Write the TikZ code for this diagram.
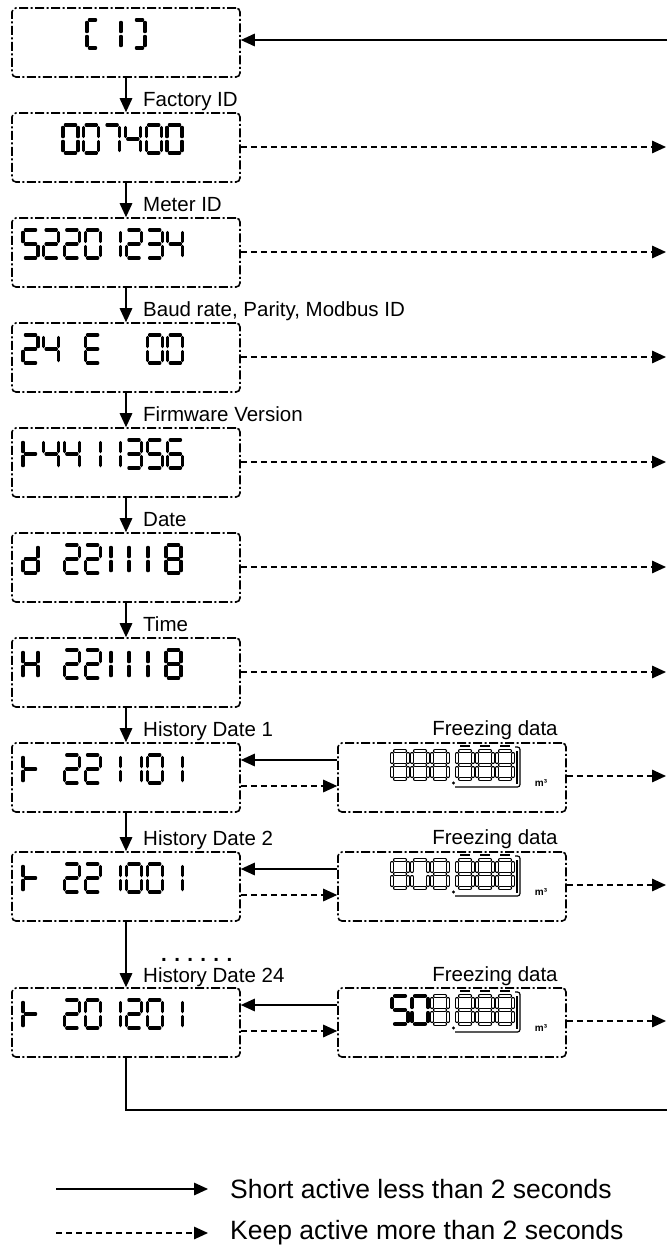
\documentclass[tikz,border=0pt]{standalone}
\usepackage{fontspec}
\setmainfont{Liberation Sans}
\usetikzlibrary{arrows.meta,calc}

\tikzset{
 lcdbox/.style={draw, line width=1.6pt, rounded corners=4pt, dash pattern=on 9pt off 2.5pt on 2pt off 2.5pt, minimum width=228pt, minimum height=69pt, inner sep=0pt},
 flow/.style={line width=1.5pt, -{Triangle[length=14pt,width=12.5pt]}},
 hold/.style={flow, dash pattern=on 6pt off 4pt},
 plain/.style={line width=1.5pt},
 lbl/.style={font=\fontsize{20.5}{24}\selectfont, anchor=base west, inner sep=0pt},
 flbl/.style={font=\fontsize{20.5}{24}\selectfont, anchor=base, inner sep=0pt},
 legendtxt/.style={font=\fontsize{26.5}{30}\selectfont, anchor=west, inner sep=0pt},
 seg/.style={line width=3.1pt, line cap=round},
 hseg/.style={line width=3.8pt, line cap=round},
 hsegw/.style={line width=1.2pt, white, line cap=round},
 hsolid/.style={line width=3.8pt, line cap=round},
 frm/.style={line width=1.2pt},
}

\def\dw{15}\def\dh{28}\def\dg{2.3}
\newcommand\lcdsega[1]{\draw[#1] (\dg,0) -- ({\dw-\dg},0);}
\newcommand\lcdsegb[1]{\draw[#1] (\dw,\dg) -- (\dw,{\dh/2-\dg});}
\newcommand\lcdsegc[1]{\draw[#1] (\dw,{\dh/2+\dg}) -- (\dw,{\dh-\dg});}
\newcommand\lcdsegd[1]{\draw[#1] (\dg,\dh) -- ({\dw-\dg},\dh);}
\newcommand\lcdsege[1]{\draw[#1] (0,{\dh/2+\dg}) -- (0,{\dh-\dg});}
\newcommand\lcdsegf[1]{\draw[#1] (0,\dg) -- (0,{\dh/2-\dg});}
\newcommand\lcdsegg[1]{\draw[#1] (\dg,{\dh/2}) -- ({\dw-\dg},{\dh/2});}
\newcommand\lcdchar[4]{\begin{scope}[shift={(#1,#2)}]\foreach \s in #3{\csname lcdseg\s\endcsname{#4}}\end{scope}}
\newcommand\hchar[3]{\lcdchar{#1}{#2}{#3}{hseg}\lcdchar{#1}{#2}{#3}{hsegw}}

\def\Dzero{a,b,c,d,e,f}
\def\Done{b,c}
\def\Dtwo{a,b,g,e,d}
\def\Dthree{a,b,g,c,d}
\def\Dfour{f,g,b,c}
\def\Dfive{a,f,g,c,d}
\def\Dsix{a,f,g,e,d,c}
\def\Dseven{a,b,c}
\def\Deight{a,b,c,d,e,f,g}
\def\DE{a,f,g,e,d}
\def\Dd{b,c,d,e,g}
\def\DH{f,e,b,c,g}
\def\Dt{f,e,g}
\def\Dlbr{a,f,e,d}
\def\Drbr{a,b,c,d}

\begin{document}
\begin{tikzpicture}[x=1pt,y=-1pt]
\useasboundingbox (0,0) rectangle (667,1250);

% ---------- left display boxes ----------
\node[lcdbox] (b1) at (126,42.5) {};
\node[lcdbox] (b2) at (126,147.5) {};
\node[lcdbox] (b3) at (126,252.5) {};
\node[lcdbox] (b4) at (126,357.5) {};
\node[lcdbox] (b5) at (126,462.5) {};
\node[lcdbox] (b6) at (126,567.5) {};
\node[lcdbox] (b7) at (126,672.5) {};
\node[lcdbox] (b8) at (126,777.5) {};
\node[lcdbox] (b9) at (126,886.5) {};
\node[lcdbox] (b10) at (126,1022.5) {};

% ---------- freezing data boxes ----------
\node[lcdbox] (f1) at (452,777.5) {};
\node[lcdbox] (f2) at (452,886.5) {};
\node[lcdbox] (f3) at (452,1022.5) {};

% ---------- labels ----------
\node[lbl] (l2) at (143,106) {Factory ID};
\node[lbl] (l3) at (143,211) {Meter ID};
\node[lbl] (l4) at (143,316) {Baud rate, Parity, Modbus ID};
\node[lbl] (l5) at (143,421) {Firmware Version};
\node[lbl] (l6) at (143,526) {Date};
\node[lbl] (l7) at (143,631) {Time};
\node[lbl] (l8) at (143,736) {History Date 1};
\node[lbl] (l9) at (143,845) {History Date 2};
\node[lbl] (l10) at (143,982) {History Date 24};
\node[flbl] (fl1) at (495,735) {Freezing data};
\node[flbl] (fl2) at (495,844) {Freezing data};
\node[flbl] (fl3) at (495,981) {Freezing data};
\node[lbl, font=\fontsize{20.5}{24}\bfseries\selectfont\addfontfeature{LetterSpace=36}] (dots) at (161,961) {......};

% ---------- LCD digits, left boxes ----------
\def\dw{11}
\lcdchar{87}{20}{\Dlbr}{seg}
\lcdchar{110}{20}{\Done}{seg}
\lcdchar{134}{20}{\Drbr}{seg}
\def\dw{15}
% 007400
\lcdchar{63}{125}{\Dzero}{seg}
\lcdchar{83.8}{125}{\Dzero}{seg}
\lcdchar{104.6}{125}{\Dseven}{seg}
\lcdchar{125.4}{125}{\Dfour}{seg}
\lcdchar{146.2}{125}{\Dzero}{seg}
\lcdchar{167}{125}{\Dzero}{seg}
% 52201234
\lcdchar{23}{230}{\Dfive}{seg}
\lcdchar{43.7}{230}{\Dtwo}{seg}
\lcdchar{64.4}{230}{\Dtwo}{seg}
\lcdchar{85.1}{230}{\Dzero}{seg}
\lcdchar{105.8}{230}{\Done}{seg}
\lcdchar{126.5}{230}{\Dtwo}{seg}
\lcdchar{147.2}{230}{\Dthree}{seg}
\lcdchar{167.9}{230}{\Dfour}{seg}
% 24 E 00
\lcdchar{23}{335}{\Dtwo}{seg}
\lcdchar{43.7}{335}{\Dfour}{seg}
\lcdchar{85.1}{335}{\DE}{seg}
\lcdchar{147.2}{335}{\Dzero}{seg}
\lcdchar{167.9}{335}{\Dzero}{seg}
% t4411356
\lcdchar{23}{440}{\Dt}{seg}
\lcdchar{43.7}{440}{\Dfour}{seg}
\lcdchar{64.4}{440}{\Dfour}{seg}
\lcdchar{85.1}{440}{\Done}{seg}
\lcdchar{105.8}{440}{\Done}{seg}
\lcdchar{126.5}{440}{\Dthree}{seg}
\lcdchar{147.2}{440}{\Dfive}{seg}
\lcdchar{167.9}{440}{\Dsix}{seg}
% d 221118
\lcdchar{23}{545}{\Dd}{seg}
\lcdchar{64.4}{545}{\Dtwo}{seg}
\lcdchar{85.1}{545}{\Dtwo}{seg}
\lcdchar{96}{545}{\Done}{seg}
\lcdchar{114}{545}{\Done}{seg}
\lcdchar{133}{545}{\Done}{seg}
\lcdchar{166}{545}{\Deight}{seg}
% H 221118
\lcdchar{23}{650}{\DH}{seg}
\lcdchar{64.4}{650}{\Dtwo}{seg}
\lcdchar{85.1}{650}{\Dtwo}{seg}
\lcdchar{96}{650}{\Done}{seg}
\lcdchar{114}{650}{\Done}{seg}
\lcdchar{133}{650}{\Done}{seg}
\lcdchar{166}{650}{\Deight}{seg}
% t 221101
\lcdchar{23}{755}{\Dt}{seg}
\lcdchar{64.4}{755}{\Dtwo}{seg}
\lcdchar{85.1}{755}{\Dtwo}{seg}
\lcdchar{105.8}{755}{\Done}{seg}
\lcdchar{126.5}{755}{\Done}{seg}
\lcdchar{147.2}{755}{\Dzero}{seg}
\lcdchar{167.9}{755}{\Done}{seg}
% t 221001
\lcdchar{23}{864}{\Dt}{seg}
\lcdchar{64.4}{864}{\Dtwo}{seg}
\lcdchar{85.1}{864}{\Dtwo}{seg}
\lcdchar{105.8}{864}{\Done}{seg}
\lcdchar{126.5}{864}{\Dzero}{seg}
\lcdchar{147.2}{864}{\Dzero}{seg}
\lcdchar{167.9}{864}{\Done}{seg}
% t 201201
\lcdchar{23}{1000}{\Dt}{seg}
\lcdchar{64.4}{1000}{\Dtwo}{seg}
\lcdchar{85.1}{1000}{\Dzero}{seg}
\lcdchar{105.8}{1000}{\Done}{seg}
\lcdchar{126.5}{1000}{\Dtwo}{seg}
\lcdchar{147.2}{1000}{\Dzero}{seg}
\lcdchar{167.9}{1000}{\Done}{seg}

% ---------- LCD digits, freezing boxes ----------
\def\dw{16}\def\dh{28}\def\dg{2.8}
% 888.888
\hchar{392}{751}{\Deight}\hchar{412}{751}{\Deight}\hchar{432}{751}{\Deight}
\hchar{457}{751}{\Deight}\hchar{477}{751}{\Deight}\hchar{497}{751}{\Deight}
% 808.888
\hchar{392}{860}{\Deight}\hchar{412}{860}{\Dzero}\hchar{432}{860}{\Deight}
\hchar{457}{860}{\Deight}\hchar{477}{860}{\Deight}\hchar{497}{860}{\Deight}
% 508.888
\lcdchar{392}{996}{\Dfive}{hsolid}\lcdchar{412}{996}{\Dzero}{hsolid}\hchar{432}{996}{\Deight}
\hchar{457}{996}{\Deight}\hchar{477}{996}{\Deight}\hchar{497}{996}{\Deight}

\foreach \T in {743,852,988}{
  \fill ($(453.5,\T)+(0,40)$) circle (1.6pt);
  \foreach \xx in {457,477,497}{\draw[frm] (\xx+3,\T+3) -- (\xx+13,\T+3);}
  \draw[frm, rounded corners=2.5pt] (455,\T+44) -- (520,\T+44) -- (520,\T+4) -- (515,\T+4);
  \draw[frm] (517,\T+8) -- (517,\T+41);
}
\node[font=\fontsize{10}{10}\bfseries\selectfont, inner sep=0pt] (m1) at (541,783) {m³};
\node[font=\fontsize{10}{10}\bfseries\selectfont, inner sep=0pt] (m2) at (541,892) {m³};
\node[font=\fontsize{10}{10}\bfseries\selectfont, inner sep=0pt] (m3) at (541,1028) {m³};

% ---------- vertical flow ----------
\draw[flow] (b1.south) -- (b2.north);
\draw[flow] (b2.south) -- (b3.north);
\draw[flow] (b3.south) -- (b4.north);
\draw[flow] (b4.south) -- (b5.north);
\draw[flow] (b5.south) -- (b6.north);
\draw[flow] (b6.south) -- (b7.north);
\draw[flow] (b7.south) -- (b8.north);
\draw[flow] (b8.south) -- (b9.north);
\draw[flow] (b9.south) -- (b10.north);

% ---------- return and right-hand connectors ----------
\coordinate (in1) at (667,40);
\draw[flow] (in1) -- (in1 -| b1.east);
\coordinate (o2) at (666,147);
\coordinate (o3) at (666,252);
\coordinate (o4) at (666,357);
\coordinate (o5) at (666,462);
\coordinate (o6) at (666,567);
\coordinate (o7) at (666,672);
\draw[hold] (o2 -| b2.east) -- (o2);
\draw[hold] (o3 -| b3.east) -- (o3);
\draw[hold] (o4 -| b4.east) -- (o4);
\draw[hold] (o5 -| b5.east) -- (o5);
\draw[hold] (o6 -| b6.east) -- (o6);
\draw[hold] (o7 -| b7.east) -- (o7);

% history rows
\coordinate (s8) at (0,760);   \coordinate (k8) at (0,786);   \coordinate (o8) at (666,776);
\coordinate (s9) at (0,869);   \coordinate (k9) at (0,895);   \coordinate (o9) at (666,885);
\coordinate (s10) at (0,1005); \coordinate (k10) at (0,1031); \coordinate (o10) at (666,1021);
\draw[flow] (s8 -| f1.west) -- (s8 -| b8.east);
\draw[hold] (k8 -| b8.east) -- (k8 -| f1.west);
\draw[hold] (o8 -| f1.east) -- (o8);
\draw[flow] (s9 -| f2.west) -- (s9 -| b9.east);
\draw[hold] (k9 -| b9.east) -- (k9 -| f2.west);
\draw[hold] (o9 -| f2.east) -- (o9);
\draw[flow] (s10 -| f3.west) -- (s10 -| b10.east);
\draw[hold] (k10 -| b10.east) -- (k10 -| f3.west);
\draw[hold] (o10 -| f3.east) -- (o10);

\coordinate (ret) at (667,1110);
\draw[plain] (b10.south) |- (ret);

% ---------- legend ----------
\coordinate (ls0) at (56,1189);  \coordinate (ls1) at (208,1189);
\coordinate (ld0) at (56,1233);  \coordinate (ld1) at (208,1233);
\draw[flow] (ls0) -- (ls1);
\draw[hold] (ld0) -- (ld1);
\node[legendtxt] (lt1) at (230,1189) {Short active less than 2 seconds};
\node[legendtxt] (lt2) at (230,1233) {Keep active more than 2 seconds};
\end{tikzpicture}
\end{document}
